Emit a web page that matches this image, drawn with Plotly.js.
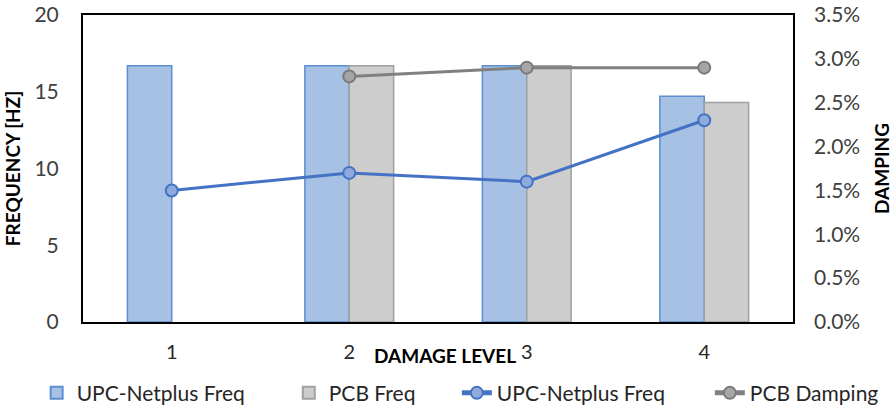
<!DOCTYPE html>
<html>
<head>
<meta charset="utf-8">
<script src="https://cdn.plot.ly/plotly-3.0.1.min.js"></script>
<style>html,body{margin:0;padding:0;background:#fff;}#chart{width:894px;height:410px;}</style>
</head>
<body>
<div id="chart"></div>
<script>
const damageLevels = ["1", "2", "3", "4"];
const upcFreq = [16.7, 16.7, 16.7, 14.7];
const pcbFreq = [null, 16.7, 16.7, 14.3];
const upcDamping = [0.015, 0.017, 0.016, 0.023];
const pcbDamping = [null, 0.028, 0.029, 0.029];
const freqTicks = [0, 5, 10, 15, 20];
const dampTicks = [0, 0.005, 0.01, 0.015, 0.02, 0.025, 0.03, 0.035];

const FONT = "Lato, 'Open Sans', sans-serif";

const traces = [
  {
    type: "bar", name: "UPC-Netplus Freq", x: damageLevels, y: upcFreq, legend: "legend",
    marker: { color: "#a6c1e4", line: { color: "#5b8fd0", width: 1.5 } },
    yaxis: "y"
  },
  {
    type: "bar", name: "PCB Freq", x: damageLevels, y: pcbFreq, legend: "legend2",
    marker: { color: "#cdcdcd", line: { color: "#a0a0a0", width: 1.5 } },
    yaxis: "y"
  },
  {
    type: "scatter", mode: "lines+markers", name: "UPC-Netplus Freq", x: damageLevels, y: upcDamping, legend: "legend3",
    line: { color: "#4472c4", width: 3 },
    marker: { symbol: "circle", size: 12, color: "#8faadc", line: { color: "#4472c4", width: 2 } },
    yaxis: "y2"
  },
  {
    type: "scatter", mode: "lines+markers", name: "PCB Damping", x: damageLevels, y: pcbDamping, legend: "legend4",
    line: { color: "#808080", width: 3 },
    marker: { symbol: "circle", size: 12, color: "#a5a5a5", line: { color: "#7a7a7a", width: 2 } },
    yaxis: "y2", connectgaps: false
  }
];

function legendAt(x) {
  return {
    orientation: "h", xref: "container", yref: "container",
    x: x, xanchor: "left", y: 0.041, yanchor: "middle",
    bgcolor: "rgba(0,0,0,0)",
    font: { family: FONT, size: 21, color: "#262626" },
    itemsizing: "constant"
  };
}

const layout = {
  width: 894, height: 410,
  margin: { l: 83, r: 101, t: 15, b: 88 },
  paper_bgcolor: "#ffffff", plot_bgcolor: "#ffffff",
  font: { family: FONT, color: "#404040", size: 20 },
  barmode: "group", bargap: 0.5, bargroupgap: 0,
  showlegend: true,
  legend: legendAt(0.041),
  legend2: legendAt(0.323),
  legend3: legendAt(0.511),
  legend4: legendAt(0.794),
  xaxis: {
    type: "category", categoryorder: "array", categoryarray: damageLevels,
    range: [-0.5, 3.5],
    showline: true, linecolor: "#000000", linewidth: 2, mirror: true,
    showgrid: false, zeroline: false, ticks: "",
    tickfont: { family: FONT, size: 20, color: "#262626" },
    ticklabelstandoff: 11,
    title: { text: "" }
  },
  yaxis: {
    range: [0, 20], tickvals: freqTicks, ticktext: freqTicks.map(String),
    showline: true, linecolor: "#000000", linewidth: 2, mirror: true,
    showgrid: false, zeroline: false, ticks: "",
    tickfont: { family: FONT, size: 21, color: "#404040" },
    ticklabelstandoff: 18,
    title: { text: "FREQUENCY [HZ]", font: { family: FONT, size: 19, color: "#000000", weight: "bold" }, standoff: 9 }
  },
  yaxis2: {
    overlaying: "y", side: "right",
    range: [0, 0.035], tickvals: dampTicks, tickformat: ".1%",
    showline: false, showgrid: false, zeroline: false, ticks: "",
    tickfont: { family: FONT, size: 21, color: "#404040" },
    ticklabelstandoff: 20,
    title: { text: "DAMPING", font: { family: FONT, size: 19, color: "#000000", weight: "bold" }, standoff: 16 }
  },
  annotations: [
    {
      text: "DAMAGE LEVEL", xref: "paper", yref: "paper", x: 0.51, y: 0, yshift: -33,
      xanchor: "center", yanchor: "middle", showarrow: false,
      font: { family: FONT, size: 19, color: "#000000", weight: "bold" }
    }
  ]
};

Plotly.newPlot("chart", traces, layout, { displayModeBar: false, staticPlot: true });
</script>
</body>
</html>
